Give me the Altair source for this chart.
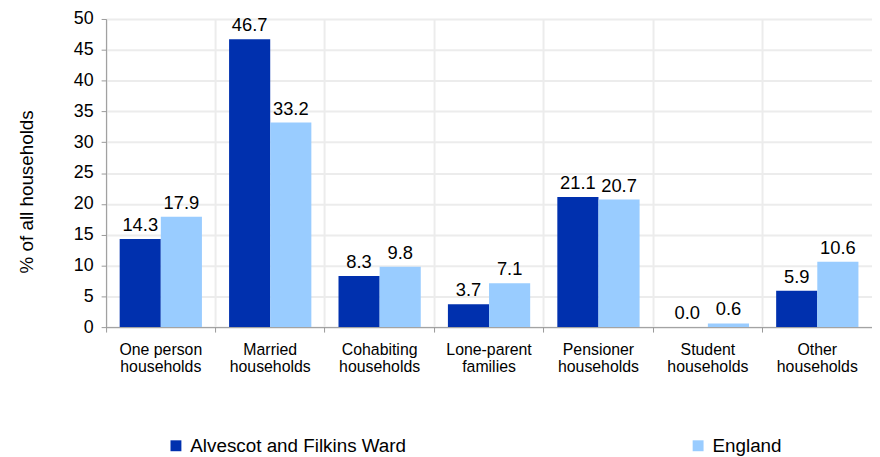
import altair as alt
import pandas as pd

categories = ["One person households", "Married households", "Cohabiting households",
              "Lone-parent families", "Pensioner households", "Student households",
              "Other households"]
series = ["Alvescot and Filkins Ward", "England"]
ward = [14.3, 46.7, 8.3, 3.7, 21.1, 0.0, 5.9]
england = [17.9, 33.2, 9.8, 7.1, 20.7, 0.6, 10.6]

rows = []
for c, w, e in zip(categories, ward, england):
    rows.append({"cat": c, "series": series[0], "value": w})
    rows.append({"cat": c, "series": series[1], "value": e})
df = pd.DataFrame(rows)

FONT = "Liberation Sans"

x = alt.X("cat:N", sort=categories, title=None,
          scale=alt.Scale(paddingInner=0, paddingOuter=0),
          axis=alt.Axis(bandPosition=0, labelAngle=0,
                        labelExpr="datum.label == 'One person households' ? ['One person', 'households'] : split(datum.label, ' ')",
                        grid=True, gridColor="#ececec", gridWidth=2,
                        domainColor="#999999", tickColor="#999999", tickSize=5,
                        labelFontSize=16, labelColor="#000000", labelPadding=10,
                        labelFont=FONT, labelLineHeight=17))
xo = alt.XOffset("series:N", sort=series,
                 scale=alt.Scale(paddingInner=0, paddingOuter=0.33))
y = alt.Y("value:Q", title="% of all households",
          scale=alt.Scale(domain=[0, 50], nice=False),
          axis=alt.Axis(values=list(range(0, 51, 5)), grid=True, gridColor="#ececec",
                        gridWidth=2, domainColor="#999999", tickColor="#999999",
                        tickSize=5, labelFontSize=18, labelColor="#000000",
                        labelPadding=8, labelFont=FONT, titleFont=FONT,
                        titleFontSize=19, titleFontWeight="normal",
                        titleColor="#000000", titlePadding=37, titleY=174))
color = alt.Color("series:N", sort=series,
                  scale=alt.Scale(domain=series, range=["#0030ae", "#99ccff"]),
                  legend=alt.Legend(title=None, orient="none", legendX=61, legendY=421,
                                    direction="horizontal", symbolType="square",
                                    symbolSize=121, symbolStrokeWidth=0,
                                    columnPadding=285, labelFontSize=19,
                                    labelFont=FONT, labelColor="#000000",
                                    labelLimit=400, labelOffset=5))

bars = alt.Chart(df).mark_bar().encode(x=x, xOffset=xo, y=y, color=color)
labels = alt.Chart(df).mark_text(dy=-14, fontSize=18.5, font=FONT, color="#000000").encode(
    x=x, xOffset=xo, y=y, text=alt.Text("value:Q", format=".1f"))

chart = (bars + labels).properties(
    width=773, height=311,
    autosize=alt.AutoSizeParams(type="none"),
    padding={"left": 99, "top": 9, "right": 0, "bottom": 128},
).configure_view(stroke=None).configure(background="white")

chart.save("out.html", embed_options={"renderer": "svg", "actions": False})
